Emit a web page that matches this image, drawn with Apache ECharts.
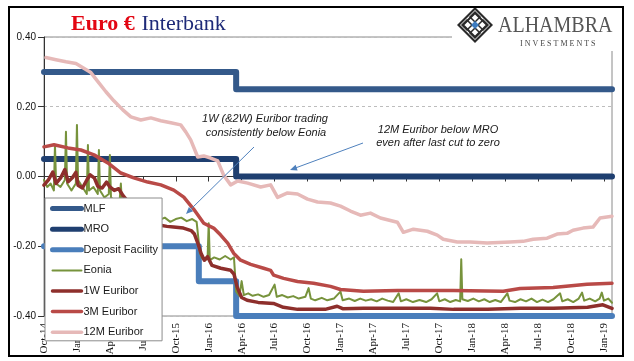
<!DOCTYPE html>
<html><head><meta charset="utf-8">
<script src="https://cdn.jsdelivr.net/npm/echarts@6/dist/echarts.min.js"></script>
<style>html,body{margin:0;padding:0;background:#fff}#c{width:634px;height:361px}</style>
</head><body><div id="c"></div>
<script>
// x values are months since 1 Oct 2014
const tickLabels = ['Oct-14','Jan-15','Apr-15','Jul-15','Oct-15','Jan-16','Apr-16','Jul-16','Oct-16','Jan-17','Apr-17','Jul-17','Oct-17','Jan-18','Apr-18','Jul-18','Oct-18','Jan-19'];
const seriesNames = ['MLF','MRO','Deposit Facility','Eonia','1W Euribor','3M Euribor','12M Euribor'];
const xEnd = 51.73;

const mlf = [[0,0.30],[17.5,0.25],[xEnd,0.25]];
const mro = [[0,0.05],[17.5,0.00],[xEnd,0.00]];
const deposit = [[0,-0.20],[14.1,-0.30],[17.5,-0.40],[xEnd,-0.40]];

const eonia = [[0,-0.01],[0.3,-0.03],[0.6,-0.02],[0.9,-0.04],[1.0,0.09],[1.1,-0.02],[1.5,-0.03],[1.9,-0.01],[2.0,0.128],[2.1,-0.02],[2.5,-0.04],[2.9,-0.02],[3.0,0.148],[3.1,-0.01],[3.5,-0.03],[3.9,-0.05],[4.0,0.09],[4.1,-0.04],[4.5,-0.03],[4.9,-0.05],[5.0,0.076],[5.1,-0.04],[5.5,-0.06],[5.9,-0.05],[6.0,0.062],[6.1,-0.06],[6.5,-0.07],[6.9,-0.065],[7.0,-0.02],[7.1,-0.08],[7.5,-0.09],[8,-0.1],[8.5,-0.11],[9,-0.105],[9.5,-0.12],[10,-0.115],[10.5,-0.125],[11,-0.118],[11.5,-0.13],[12,-0.122],[12.5,-0.118],[13,-0.128],[13.5,-0.122],[13.9,-0.13],[14.2,-0.22],[14.4,-0.235],[14.7,-0.24],[14.9,-0.232],[15.0,-0.134],[15.1,-0.24],[15.5,-0.232],[16,-0.238],[16.5,-0.228],[17,-0.238],[17.3,-0.232],[17.5,-0.33],[17.8,-0.342],[18.0,-0.30],[18.2,-0.34],[18.6,-0.335],[19,-0.342],[19.5,-0.338],[20,-0.345],[20.5,-0.34],[21.0,-0.31],[21.2,-0.345],[21.7,-0.34],[22.2,-0.347],[22.7,-0.343],[23.2,-0.35],[23.8,-0.345],[24.1,-0.32],[24.3,-0.35],[24.7,-0.355],[25.3,-0.348],[25.8,-0.355],[26.4,-0.35],[27.0,-0.33],[27.2,-0.355],[27.8,-0.35],[28.3,-0.357],[28.8,-0.35],[29.3,-0.356],[29.8,-0.352],[30.3,-0.358],[30.8,-0.35],[31.3,-0.356],[31.8,-0.36],[32.3,-0.335],[32.5,-0.358],[33.0,-0.352],[33.6,-0.36],[34.2,-0.354],[34.8,-0.36],[35.3,-0.352],[35.8,-0.335],[36.0,-0.358],[36.5,-0.352],[37.0,-0.36],[37.5,-0.354],[37.9,-0.358],[38.0,-0.237],[38.1,-0.352],[38.6,-0.357],[39.1,-0.35],[39.6,-0.358],[40.1,-0.352],[40.6,-0.36],[41.1,-0.354],[41.6,-0.36],[42.2,-0.335],[42.4,-0.356],[42.9,-0.36],[43.4,-0.352],[43.9,-0.358],[44.4,-0.35],[44.9,-0.36],[45.4,-0.353],[45.9,-0.36],[46.4,-0.352],[47.0,-0.335],[47.2,-0.358],[47.7,-0.352],[48.2,-0.36],[48.7,-0.35],[49.0,-0.333],[49.2,-0.356],[49.7,-0.35],[50.2,-0.358],[50.6,-0.35],[50.8,-0.333],[51.0,-0.356],[51.4,-0.35],[51.73,-0.362]];

const euribor1w = [[0,-0.025],[0.4,-0.01],[0.8,0.013],[1.1,-0.02],[1.5,-0.005],[1.9,0.02],[2.2,-0.015],[2.6,-0.003],[2.9,0.012],[3.1,-0.025],[3.5,-0.033],[3.9,-0.01],[4.2,0.005],[4.6,-0.005],[4.9,-0.028],[5.3,-0.033],[5.7,-0.016],[6.0,-0.03],[6.4,-0.04],[6.8,-0.035],[7.2,-0.055],[7.6,-0.07],[8.0,-0.09],[8.5,-0.105],[9.0,-0.118],[9.5,-0.125],[10.0,-0.132],[10.6,-0.14],[11.2,-0.143],[11.8,-0.145],[12.7,-0.148],[13.4,-0.155],[13.7,-0.165],[14.0,-0.19],[14.3,-0.22],[14.6,-0.24],[14.9,-0.23],[15.3,-0.255],[16.1,-0.263],[17.0,-0.269],[17.3,-0.28],[17.6,-0.318],[18.0,-0.347],[18.5,-0.355],[19.5,-0.361],[20.9,-0.364],[21.8,-0.375],[23.1,-0.381],[25.6,-0.381],[26.7,-0.372],[27.2,-0.379],[29.1,-0.378],[32.0,-0.378],[35.2,-0.378],[37.3,-0.381],[40.4,-0.381],[43.4,-0.378],[46.4,-0.378],[49.5,-0.375],[50.9,-0.368],[51.73,-0.378]];

const euribor3m = [[0,0.085],[0.91,0.091],[2.18,0.082],[3.36,0.076],[4.55,0.062],[5.82,0.039],[7.0,0.010],[8.18,-0.004],[9.45,-0.016],[10.64,-0.024],[11.82,-0.039],[12.73,-0.059],[13.64,-0.094],[14.55,-0.134],[15.45,-0.148],[16.09,-0.168],[16.73,-0.191],[17.27,-0.220],[17.91,-0.240],[18.82,-0.252],[20.0,-0.263],[20.64,-0.269],[20.91,-0.283],[21.82,-0.292],[23.09,-0.301],[24.55,-0.306],[26.09,-0.315],[27.0,-0.324],[29.09,-0.329],[32.18,-0.327],[35.18,-0.327],[37.27,-0.327],[41.82,-0.329],[43.36,-0.321],[46.36,-0.318],[49.45,-0.309],[51.73,-0.306]];

const euribor12m = [[0.18,0.341],[1.09,0.335],[2.0,0.329],[2.91,0.324],[3.55,0.312],[4.27,0.298],[4.91,0.272],[5.64,0.243],[6.36,0.217],[7.18,0.191],[7.91,0.171],[8.82,0.162],[9.73,0.168],[10.64,0.160],[11.55,0.154],[12.45,0.148],[12.91,0.128],[13.36,0.105],[14.0,0.056],[14.55,0.059],[15.18,0.053],[15.82,0.045],[16.36,0.004],[17.0,-0.024],[17.64,-0.013],[18.55,-0.019],[19.73,-0.030],[20.64,-0.024],[21.27,-0.060],[22.18,-0.047],[23.09,-0.050],[24.0,-0.065],[24.91,-0.073],[26.09,-0.076],[27.0,-0.085],[27.91,-0.099],[28.82,-0.111],[29.73,-0.105],[30.64,-0.119],[32.18,-0.131],[32.73,-0.160],[33.64,-0.151],[34.91,-0.157],[35.82,-0.168],[36.36,-0.180],[37.64,-0.188],[38.82,-0.188],[40.36,-0.191],[42.45,-0.188],[43.64,-0.186],[44.55,-0.180],[45.82,-0.177],[46.73,-0.165],[47.64,-0.163],[48.18,-0.154],[49.09,-0.148],[50.0,-0.145],[50.64,-0.119],[51.73,-0.114]];

const colors = ['#34598A','#1F3F70','#4A7EBB','#77933C','#8E2F2C','#B94A47','#E6B9B8'];
const widths = [6,6,6,2,3.5,3.5,3.5];
const legendWidths = [5,5,5,2,3.5,3.5,3.5];
const dataSets = [mlf, mro, deposit, eonia, euribor1w, euribor3m, euribor12m];

const chart = echarts.init(document.getElementById('c'), null, {renderer:'canvas'});
const series = seriesNames.map((n,i)=>({
  name:n, type:'line', data:dataSets[i], symbol:'none', step: i<3 ? 'end' : false,
  lineStyle:{color:colors[i], width:widths[i], cap:'round', join:'round'},
  itemStyle:{color:colors[i]}, z: 2+i, animation:false
}));
const tickVals = tickLabels.map((_,i)=>i*3);
const legendData = seriesNames.map((n,i)=>({name:n, lineStyle:{width:legendWidths[i], color:colors[i], cap:'round'}}));

function diamond(cx,cy,r){return [[cx,cy-r],[cx+r,cy],[cx,cy+r],[cx-r,cy]];}

chart.setOption({
  animation:false,
  grid:{left:44,right:22,top:37,bottom:45,show:true,borderColor:'#8a8a8a',borderWidth:1},
  xAxis:{type:'value',min:0,max:xEnd,
    axisLine:{lineStyle:{color:'#333',width:1}},
    axisTick:{customValues:tickVals,length:5,lineStyle:{color:'#333'}},
    axisLabel:{customValues:tickVals,rotate:90,fontFamily:'Liberation Serif',fontSize:11,color:'#111',margin:7,
      formatter:v=>tickLabels[Math.round(v/3)]||''},
    splitLine:{show:false}},
  yAxis:{type:'value',min:-0.4,max:0.4,interval:0.2,
    axisLine:{show:true,lineStyle:{color:'#333'}},
    axisTick:{show:true,length:6,lineStyle:{color:'#333'}},
    axisLabel:{fontFamily:'Liberation Sans',fontSize:10,color:'#111',margin:8,formatter:v=>v.toFixed(2)},
    splitLine:{show:true,lineStyle:{color:'#bdbdbd',type:[3,3],width:1}}},
  legend:{data:legendData,orient:'vertical',left:45,top:198,itemWidth:29,itemHeight:14,itemGap:9.4,
    padding:[5,4,3,5],backgroundColor:'#fff',borderColor:'#8c8c8c',borderWidth:1,selectedMode:false,
    itemStyle:{opacity:0},
    textStyle:{fontFamily:'Liberation Sans',fontSize:11,color:'#1a1a1a',padding:[0,0,0,-3]},z:20},
  series:series,
  graphic:[
    {type:'rect',shape:{x:9,y:7,width:614,height:349},style:{fill:'none',stroke:'#000',lineWidth:2},z:100},
    {type:'text',left:71,top:13,style:{rich:{a:{fill:'#E30613',fontWeight:'bold',fontFamily:'Liberation Serif',fontSize:22},b:{fill:'#1E2A78',fontFamily:'Liberation Serif',fontSize:22}},text:'{a|Euro €}  {b|Interbank}'},z:100},
    // logo
    {type:'rect',shape:{x:452,y:9,width:170,height:42},style:{fill:'#fff'},z:50},
    {type:'polygon',shape:{points:diamond(475,25,18)},style:{fill:'#2a2a2a'},z:51},
    {type:'polygon',shape:{points:diamond(475,25,15)},style:{fill:'#fff'},z:52},
    {type:'polygon',shape:{points:diamond(475,25,12)},style:{fill:'none',stroke:'#2a2a2a',lineWidth:2},z:53},
    {type:'polygon',shape:{points:diamond(475,17,5)},style:{fill:'none',stroke:'#2a2a2a',lineWidth:1.5},z:53},
    {type:'polygon',shape:{points:diamond(475,33,5)},style:{fill:'none',stroke:'#2a2a2a',lineWidth:1.5},z:53},
    {type:'polygon',shape:{points:diamond(467,25,5)},style:{fill:'none',stroke:'#2a2a2a',lineWidth:1.5},z:53},
    {type:'polygon',shape:{points:diamond(483,25,5)},style:{fill:'none',stroke:'#2a2a2a',lineWidth:1.5},z:53},
    {type:'polygon',shape:{points:diamond(475,25,4)},style:{fill:'#3E7CC0'},z:54},
    {type:'text',x:498,y:14,scaleY:1.15,style:{text:'ALHAMBRA',fill:'#555',fontFamily:'Liberation Serif',fontSize:20},z:55},
    {type:'text',x:520,y:40,style:{text:'I N V E S T M E N T S',fill:'#444',fontFamily:'Liberation Serif',fontSize:8},z:55},
    // annotations
    {type:'text',x:265,y:119,style:{text:'1W (&2W) Euribor trading',fill:'#1a1a1a',fontFamily:'Liberation Sans',fontStyle:'italic',fontSize:11,align:'center',verticalAlign:'middle'},z:60},
    {type:'text',x:266,y:133,style:{text:'consistently below Eonia',fill:'#1a1a1a',fontFamily:'Liberation Sans',fontStyle:'italic',fontSize:11,align:'center',verticalAlign:'middle'},z:60},
    {type:'text',x:438,y:130,style:{text:'12M Euribor below MRO',fill:'#1a1a1a',fontFamily:'Liberation Sans',fontStyle:'italic',fontSize:11,align:'center',verticalAlign:'middle'},z:60},
    {type:'text',x:438,y:143,style:{text:'even after last cut to zero',fill:'#1a1a1a',fontFamily:'Liberation Sans',fontStyle:'italic',fontSize:11,align:'center',verticalAlign:'middle'},z:60},
    {type:'line',shape:{x1:254,y1:147,x2:189,y2:211},style:{stroke:'#4F81BD',lineWidth:1},z:60},
    {type:'polygon',shape:{points:[[186,214],[193.1,211.2],[188.9,207]]},style:{fill:'#4F81BD'},z:60},
    {type:'line',shape:{x1:363,y1:143,x2:294,y2:168.5},style:{stroke:'#4F81BD',lineWidth:1},z:60},
    {type:'polygon',shape:{points:[[290,170],[297.6,170.4],[295.6,164.8]]},style:{fill:'#4F81BD'},z:60}
  ]
});
</script></body></html>
